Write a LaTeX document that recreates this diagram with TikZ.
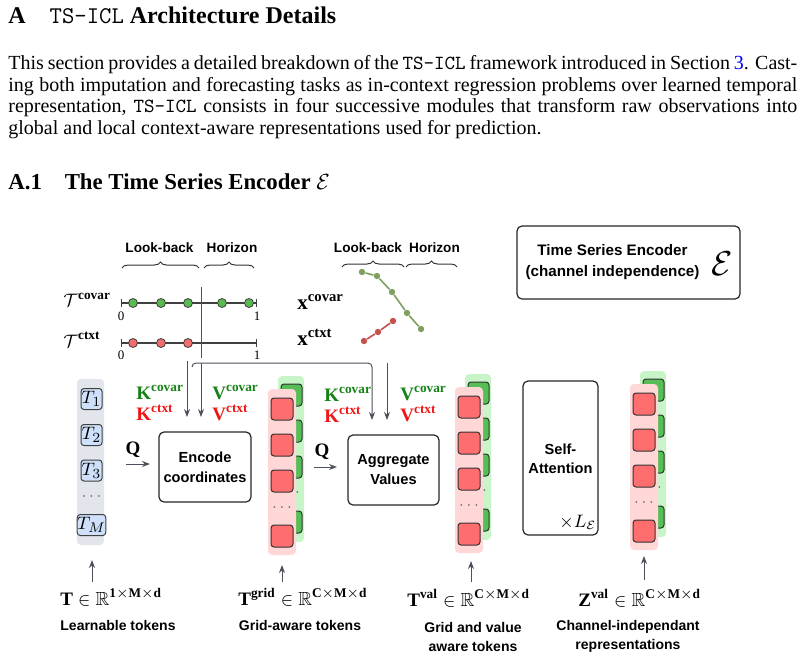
\documentclass[tikz,border=0pt]{standalone}
\usepackage{amssymb}
\usepackage{fontspec}
\setmainfont{Liberation Serif}
\setsansfont{Liberation Sans}
\usetikzlibrary{arrows.meta,decorations.pathreplacing}
\definecolor{arrg}{RGB}{75,80,90}
\definecolor{kgreen}{RGB}{20,130,20}
\definecolor{kred}{RGB}{240,20,20}
\definecolor{gbox}{RGB}{85,190,85}
\definecolor{gbg}{RGB}{200,245,200}
\definecolor{rbox}{RGB}{255,110,110}
\definecolor{rbg}{RGB}{255,215,215}
\definecolor{tokblue}{RGB}{207,225,250}
\definecolor{colgray}{RGB}{226,229,235}
\definecolor{dotgreen}{RGB}{90,185,80}
\definecolor{dotred}{RGB}{240,110,110}
\definecolor{plotgreen}{RGB}{125,160,95}
\definecolor{plotred}{RGB}{200,80,75}
\definecolor{linkblue}{RGB}{0,0,255}
\tikzset{
  lbl/.style={font=\sffamily\bfseries\fontsize{7}{9.5}\selectfont, align=center, inner sep=0},
  smalllbl/.style={font=\sffamily\bfseries\fontsize{6.8}{7.5}\selectfont, inner sep=0},
  mathlbl/.style={font=\fontsize{9.5}{11}\selectfont, inner sep=0},
  numlbl/.style={font=\fontsize{6.5}{7}\selectfont, inner sep=0},
  opbox/.style={draw=black!85, line width=0.6pt, rounded corners=2.5pt, align=center, inner sep=0,
    font=\sffamily\bfseries\fontsize{7.3}{10}\selectfont},
  arr/.style={draw=arrg, line width=0.5pt, -{Stealth[length=4pt,width=3pt]}},
  link/.style={draw=arrg, line width=0.5pt, rounded corners=2pt},
  brc/.style={decorate, decoration={brace, amplitude=3pt}, draw=black!80, line width=0.5pt},
  tline/.style={draw=black!75, line width=0.6pt, {Bar[width=4pt]}-{Bar[width=4pt]}},
  dotg/.style={circle, fill=dotgreen, draw=black!75, line width=0.4pt, minimum size=4.5pt, inner sep=0},
  dotr/.style={circle, fill=dotred, draw=black!75, line width=0.4pt, minimum size=4.5pt, inner sep=0},
  pg/.style={circle, fill=plotgreen, minimum size=3.2pt, inner sep=0},
  pr/.style={circle, fill=plotred, minimum size=3.2pt, inner sep=0},
  tok/.style={draw=black!75, fill=tokblue, rounded corners=1.5pt, minimum size=10.5pt, inner sep=0,
    line width=0.5pt, font=\fontsize{9.5}{10}\selectfont},
  gcell/.style={draw=black!80, fill=gbox, rounded corners=1.5pt, line width=0.5pt},
  rcell/.style={draw=black!80, fill=rbox, rounded corners=1.5pt, line width=0.5pt},
  dotsl/.style={inner sep=0, font=\fontsize{8}{9}\selectfont, text=black!60},
}
\newcommand{\mystack}[3]{%
  \begin{scope}[shift={(#2,#3)}]
    \fill[gbg, rounded corners=2pt] (278,376) rectangle (304,542);
    \foreach \yy in {384,420,456,511} \draw[gcell] (281,\yy) rectangle ++(21,22);
    \node[dotsl] at (290,493) {$\cdots$};
    \fill[rbg, rounded corners=2pt] (268,389) rectangle (296,555);
    \foreach \yy in {398,434,470,525} \draw[rcell] (271,\yy) rectangle ++(22,22);
    \node[dotsl] at (282,508) {$\cdots$};
    \coordinate (#1) at (282,555);
  \end{scope}}
\begin{document}
\begin{tikzpicture}[x=0.5pt,y=-0.5pt]
\useasboundingbox (0,0) rectangle (804,660);
% ---------- text ----------
\node[anchor=base west, inner sep=0, font=\fontsize{12}{14}\selectfont\bfseries] (title) at (8,23)
  {A\hspace{1em}\texttt{\mdseries TS-ICL} Architecture Details};
\node[anchor=north west, inner sep=0, text width=394.5pt, align=justify,
      font=\fontsize{10}{10.8}\selectfont] (para) at (8,55)
  {This section provides a detailed breakdown of the \texttt{TS-ICL} framework introduced in Section \textcolor{linkblue}{3}. Cast-\linebreak ing both imputation and forecasting tasks as in-context regression problems over learned temporal\linebreak representation, \texttt{TS-ICL} consists in four successive modules that transform raw observations into\linebreak global and local context-aware representations used for prediction.};
\node[anchor=base west, inner sep=0, font=\fontsize{11.4}{13}\selectfont\bfseries] (sub) at (8,189)
  {A.1\hspace{1em}The Time Series Encoder $\mathcal{E}$};
% ---------- timelines ----------
\node[smalllbl] (lb1) at (159.5,248) {Look-back};
\node[smalllbl] (hz1) at (232,248) {Horizon};
\draw[brc] (122,268) -- (199,268);
\draw[brc] (204,268) -- (254,268);
\node[mathlbl, anchor=west] (tcov) at (63,300) {$\mathcal{T}^{\mathbf{covar}}$};
\node[mathlbl, anchor=west] (tctx) at (63,340) {$\mathcal{T}^{\mathbf{ctxt}}$};
\coordinate (c0) at (121,303); \coordinate (c1) at (257,303);
\coordinate (d0) at (121,343); \coordinate (d1) at (257,343);
\draw[tline] (c0) -- (c1);
\draw[tline] (d0) -- (d1);
\foreach[count=\i] \xx in {133,161,188,222,249} \node[dotg] (cg\i) at (\xx,303) {};
\foreach[count=\i] \xx in {133,161,188} \node[dotr] (cr\i) at (\xx,343) {};
\node[numlbl] (z0) at (121,316) {0};
\node[numlbl] (z1) at (257,316) {1};
\node[numlbl] (y0) at (121,355) {0};
\node[numlbl] (y1) at (257,355) {1};
\coordinate (divt) at (201,287); \coordinate (divb) at (201,358);
\draw[draw=arrg, line width=0.5pt] (divt) -- (divb);
% ---------- value plot ----------
\node[smalllbl] (lb2) at (368,248) {Look-back};
\node[smalllbl] (hz2) at (434.5,248) {Horizon};
\draw[brc] (342,267) -- (404,267);
\draw[brc] (406,267) -- (457,267);
\node[mathlbl, anchor=west, font=\fontsize{10.5}{12}\selectfont] (xcov) at (297,302) {$\mathbf{x}^{\mathbf{covar}}$};
\node[mathlbl, anchor=west, font=\fontsize{10.5}{12}\selectfont] (xctx) at (297,337) {$\mathbf{x}^{\mathbf{ctxt}}$};
\foreach[count=\i] \p in {(362,272),(377,276),(392,292),(407,313),(421,329)} \node[pg] (g\i) at \p {};
\foreach[count=\i] \p in {(364,341),(378,332),(393,321)} \node[pr] (r\i) at \p {};
\draw[plotgreen, line width=0.8pt] (g1) -- (g2) -- (g3) -- (g4) -- (g5);
\draw[plotred, line width=0.8pt] (r1) -- (r2) -- (r3);
% ---------- legend box ----------
\node[opbox, minimum width=111.5pt, minimum height=36.5pt] (tse) at (628.5,262.5) {};
\node[lbl, font=\sffamily\bfseries\fontsize{7.6}{10.5}\selectfont] (tsetxt) at (612.5,262.5) {Time Series Encoder\\(channel independence)};
\node[inner sep=0, font=\fontsize{17}{17}\selectfont] (tseE) at (722,264) {$\mathcal{E}$};
% ---------- learnable tokens ----------
\fill[colgray, rounded corners=2pt] (77,379) rectangle (104,545);
\node[tok] (t1) at (91.5,399) {$T_1$};
\node[tok] (t2) at (91.5,435) {$T_2$};
\node[tok] (t3) at (91.5,470.5) {$T_3$};
\node[dotsl] (td) at (91.5,497) {$\cdots$};
\node[tok] (tm) at (91.5,525) {$T_M$};
\coordinate (col0) at (92,545);
% ---------- encode ----------
\node[opbox, minimum width=46pt, minimum height=35pt] (enc) at (205,467) {Encode\\coordinates};
\coordinate (q1s) at (126,464); \coordinate (q1e) at (150,464);
\draw[arr] (q1s) -- (q1e);
\node[mathlbl] (q1) at (133,450) {$\mathbf{Q}$};
\node[mathlbl, anchor=base west, text=kgreen] (k1c) at (136,399) {$\mathbf{K}^{\mathbf{covar}}$};
\node[mathlbl, anchor=base west, text=kred] (k1t) at (136,420) {$\mathbf{K}^{\mathbf{ctxt}}$};
\node[mathlbl, anchor=base west, text=kgreen] (v1c) at (212,399) {$\mathbf{V}^{\mathbf{covar}}$};
\node[mathlbl, anchor=base west, text=kred] (v1t) at (212,420) {$\mathbf{V}^{\mathbf{ctxt}}$};
% ---------- aggregate ----------
\node[opbox, minimum width=45.5pt, minimum height=35pt] (agg) at (393.5,470) {Aggregate\\Values};
\coordinate (q2s) at (314,467); \coordinate (q2e) at (337,467);
\draw[arr] (q2s) -- (q2e);
\node[mathlbl] (q2) at (322,452) {$\mathbf{Q}$};
\node[mathlbl, anchor=base west, text=kgreen] (k2c) at (324,401) {$\mathbf{K}^{\mathbf{covar}}$};
\node[mathlbl, anchor=base west, text=kred] (k2t) at (324,422) {$\mathbf{K}^{\mathbf{ctxt}}$};
\node[mathlbl, anchor=base west, text=kgreen] (v2c) at (400,400) {$\mathbf{V}^{\mathbf{covar}}$};
\node[mathlbl, anchor=base west, text=kred] (v2t) at (400,421) {$\mathbf{V}^{\mathbf{ctxt}}$};
% ---------- connectors from top ----------
\coordinate (ka) at (187,361); \coordinate (kae) at (187,417);
\coordinate (hk) at (192,367); \coordinate (hr) at (372,363); \coordinate (kbe) at (372,420);
\coordinate (va) at (201,363); \coordinate (vae) at (201,417);
\coordinate (vb) at (387,363); \coordinate (vbe) at (387,420);
\draw[arr] (ka) -- (kae);
\draw[link, arr] (hk) |- (hr) -- (kbe);
\draw[arr] (va) -- (vae);
\draw[arr] (vb) -- (vbe);
% ---------- stacks ----------
\mystack{s1}{0}{0}
\mystack{s2}{187}{-2}
\mystack{s3}{362}{-5}
% ---------- self attention ----------
\node[opbox, minimum width=37.5pt, minimum height=77pt] (sa) at (560.5,458) {};
\node[lbl, font=\sffamily\bfseries\fontsize{7.3}{9.5}\selectfont] (satxt) at (560.5,458.5) {Self-\\Attention};
\node[mathlbl, font=\fontsize{9}{10}\selectfont] (sal) at (578,522) {$\times L_{\mathcal{E}}$};
% ---------- bottom labels ----------
\coordinate (b1) at (92,582); \coordinate (b1e) at (92,560);
\coordinate (b2) at (282,582); \coordinate (b2e) at (282,565);
\coordinate (b3) at (471,582); \coordinate (b3e) at (471,561);
\coordinate (b4) at (644,580); \coordinate (b4e) at (644,556);
\draw[arr] (b1) -- (b1e);
\draw[arr] (b2) -- (b2e);
\draw[arr] (b3) -- (b3e);
\draw[arr] (b4) -- (b4e);
\node[mathlbl, anchor=base west] (Tl) at (60,605) {$\mathbf{T}\in\mathbb{R}^{\mathbf{1\times M\times d}}$};
\node[mathlbl, anchor=base west] (Tg) at (238,605) {$\mathbf{T}^{\mathbf{grid}}\in\mathbb{R}^{\mathbf{C\times M\times d}}$};
\node[mathlbl, anchor=base west] (Tv) at (407,606) {$\mathbf{T}^{\mathbf{val}}\in\mathbb{R}^{\mathbf{C\times M\times d}}$};
\node[mathlbl, anchor=base west] (Zv) at (578,606) {$\mathbf{Z}^{\mathbf{val}}\in\mathbb{R}^{\mathbf{C\times M\times d}}$};
\node[lbl] (Tlc) at (118,625) {Learnable tokens};
\node[lbl] (Tgc) at (300,625) {Grid-aware tokens};
\node[lbl] (Tvc) at (473,636.5) {Grid and value\\aware tokens};
\node[lbl] (Zvc) at (628,636.5) {Channel-independant\\representations};
\end{tikzpicture}
\end{document}
